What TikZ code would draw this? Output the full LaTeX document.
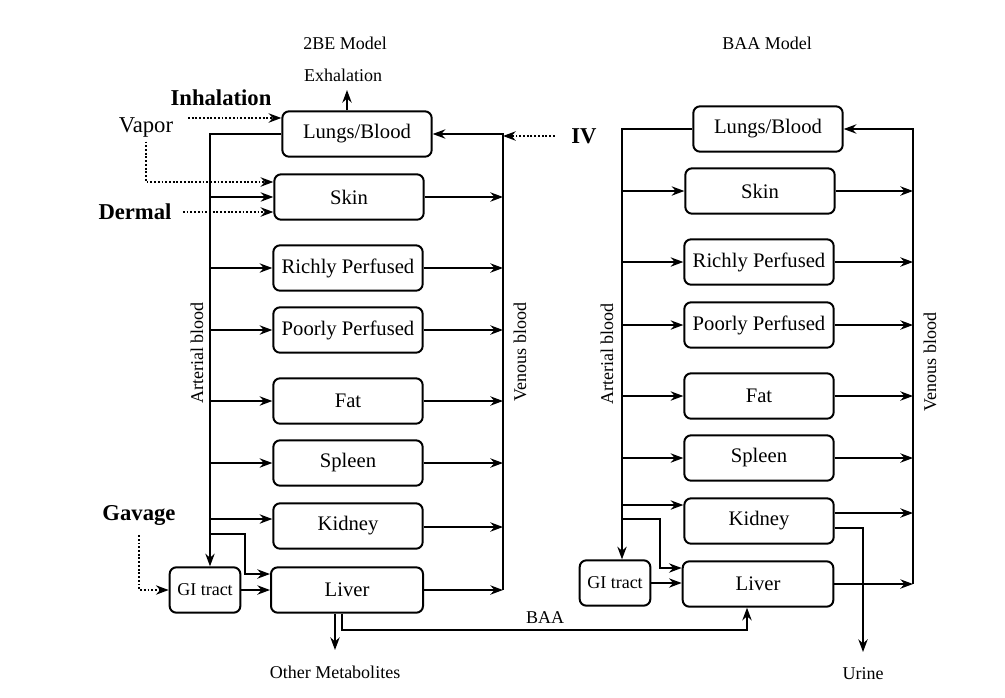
\documentclass[tikz,border=0pt]{standalone}
\usepackage{fontspec}
\setmainfont{Liberation Serif}
\usetikzlibrary{arrows.meta, positioning}

\begin{document}
\begin{tikzpicture}[x=0.75pt, y=-0.75pt,
    organ/.style={draw, line width=1.5pt, rounded corners=5pt, minimum width=112pt,
                  minimum height=34pt, inner sep=0pt, font=\fontsize{15.5}{18}\selectfont},
    gutbox/.style={organ, minimum width=53pt, font=\fontsize{13.5}{16}\selectfont},
    flow/.style={-{Stealth[length=9.5pt, width=7pt]}, line width=1.3pt},
    feed/.style={flow, line width=1.5pt, dash pattern=on 1.4pt off 1.4pt},
    tag/.style={font=\fontsize{13.5}{16}\selectfont},
    route/.style={font=\fontsize{17}{20}\selectfont\bfseries}
  ]
  \useasboundingbox (0,0) rectangle (1005,697);

  % 2BE Model
  \node[tag] (titleA) at (345,43) {2BE Model};
  \node[tag] (exhA) at (343,75) {Exhalation};
  \node[organ] (lungsA)  at (357,134) {Lungs/Blood};
  \node[organ] (skinA)   at (349,197) {Skin};
  \node[organ] (richA)   at (348,268) {Richly Perfused};
  \node[organ] (poorA)   at (348,330) {Poorly Perfused};
  \node[organ] (fatA)    at (348,401) {Fat};
  \node[organ] (spleenA) at (348,463) {Spleen};
  \node[organ] (kidneyA) at (348,526) {Kidney};
  \node[organ, minimum width=114pt] (liverA) at (347,590) {Liver};
  \node[gutbox] (giA) at (205,590) {GI tract};

  \coordinate (artA) at (210,0);
  \coordinate (venA) at (503,0);
  \node[tag, rotate=90] at (197,353) {Arterial blood};
  \node[tag, rotate=90] at (520,352) {Venous blood};

  % arterial and venous trunks
  \draw[flow] (lungsA.west) -| (artA |- giA.north);
  \draw[flow] (venA |- liverA.east) |- (lungsA.east);
  \foreach \n in {skinA, richA, poorA, fatA, spleenA, liverA} {
    \draw[flow] (\n.east) -- (venA |- \n.east);
  }
  \foreach \n in {skinA, richA, poorA, fatA, spleenA} {
    \draw[flow] (artA |- \n.west) -- (\n.west);
  }
  \draw[flow] (artA |- 0,519) -- (kidneyA.west |- 0,519);
  \draw[flow] (kidneyA.east |- 0,527) -- (venA |- 0,527);
  \coordinate (lvA) at (245,574);
  \draw[flow] (artA |- 0,534) -| (lvA) -- (liverA.west |- lvA);
  \draw[flow] (giA.east) -- (liverA.west |- giA.east);

  % exposure routes
  \node[route] (inhA) at (221,98) {Inhalation};
  \node[tag, font=\fontsize{17}{20}\selectfont] (vapA) at (146,127) {Vapor};
  \node[route] (derA) at (135,212) {Dermal};
  \node[route] (gavA) at (139,515) {Gavage};
  \node[route] (ivA) at (584,136) {IV};
  \coordinate (inhS) at (188,118);
  \draw[feed] (inhS) -- (lungsA.west |- inhS);
  \draw[feed] (vapA.south) |- (skinA.west |- 0,182);
  \draw[feed, shorten <=5pt] (derA.east) -- (skinA.west |- derA.east);
  \draw[feed, shorten <=4pt] (gavA.south) |- (giA.west);
  \draw[feed, shorten <=9pt] (ivA.west) -- (venA |- ivA.west);

  % outflows
  \coordinate (exhTip) at (347,90);
  \draw[flow] (lungsA.north -| exhTip) -- (exhTip);
  \coordinate (metTip) at (335,650);
  \draw[flow] (liverA.south -| metTip) -- (metTip);
  \node[tag] (metA) at (335,672) {Other Metabolites};

  % BAA Model
  \node[tag] (titleB) at (767,43) {BAA Model};
  \node[organ] (lungsB)  at (768,129) {Lungs/Blood};
  \node[organ] (skinB)   at (760,191) {Skin};
  \node[organ] (richB)   at (759,262) {Richly Perfused};
  \node[organ] (poorB)   at (759,325) {Poorly Perfused};
  \node[organ] (fatB)    at (759,396) {Fat};
  \node[organ] (spleenB) at (759,458) {Spleen};
  \node[organ] (kidneyB) at (759,521) {Kidney};
  \node[organ, minimum width=113pt] (liverB) at (758,584) {Liver};
  \node[gutbox] (giB) at (615,583) {GI tract};

  \coordinate (artB) at (622,0);
  \coordinate (venB) at (913,0);
  \node[tag, rotate=90] at (607,354) {Arterial blood};
  \node[tag, rotate=90] at (930,362) {Venous blood};

  \draw[flow] (lungsB.west) -| (artB |- giB.north);
  \draw[flow] (venB |- liverB.east) |- (lungsB.east);
  \foreach \n in {skinB, richB, poorB, fatB, spleenB, liverB} {
    \draw[flow] (\n.east) -- (venB |- \n.east);
  }
  \foreach \n in {skinB, richB, poorB, fatB, spleenB} {
    \draw[flow] (artB |- \n.west) -- (\n.west);
  }
  \draw[flow] (artB |- 0,505) -- (kidneyB.west |- 0,505);
  \draw[flow] (kidneyB.east |- 0,513) -- (venB |- 0,513);
  \coordinate (lvB) at (660,568);
  \draw[flow] (artB |- 0,519) -| (lvB) -- (liverB.west |- lvB);
  \draw[flow] (giB.east) -- (liverB.west |- giB.east);

  % urine
  \coordinate (urTip) at (863,652);
  \draw[flow] (kidneyB.east |- 0,528) -| (urTip);
  \node[tag] (urB) at (863,674) {Urine};

  % BAA from 2BE liver
  \coordinate (baaL) at (342,630);
  \coordinate (baaR) at (747,630);
  \draw[flow] (liverA.south -| baaL) -- (baaL) -- (baaR) -- (liverB.south -| baaR);
  \node[tag] (baaA) at (545,618) {BAA};
\end{tikzpicture}
\end{document}
